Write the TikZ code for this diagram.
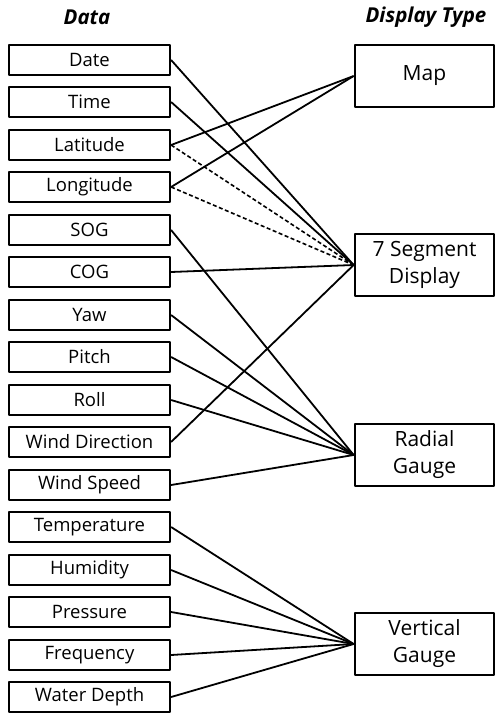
\documentclass[tikz,border=0pt]{standalone}
\usepackage{fontspec}
\setmainfont{Open Sans}
\usepackage{tikz}
\usetikzlibrary{arrows.meta}

\tikzset{
  databox/.style={draw, line width=2.2pt, minimum width=161pt, minimum height=30.5pt, inner sep=0pt, font=\fontsize{18.5}{22}\selectfont},
  typebox/.style={draw, line width=2.2pt, minimum width=139.5pt, minimum height=62.5pt, inner sep=0pt, align=center, font=\fontsize{21}{27}\selectfont},
  link/.style={line width=1.8pt},
  dlink/.style={line width=1.6pt, dash pattern=on 4pt off 2.5pt},
}

\begin{document}
\begin{tikzpicture}[x=1pt, y=-1pt, line join=round]
  \useasboundingbox (0,0) rectangle (496,713);
  % headings
  \node[font=\fontsize{20.5}{24}\selectfont\bfseries\itshape] (hdata) at (87,17) {Data};
  \node[font=\fontsize{20.5}{24}\selectfont\bfseries\itshape] (htype) at (426,17) {Display Type};
  % data items
  \node[databox] (date) at (89.5,60) {Date};
  \node[databox] (time) at (89.5,102) {Time};
  \node[databox] (lat) at (89.5,145) {Latitude};
  \node[databox] (lon) at (89.5,187) {Longitude};
  \node[databox] (sog) at (89.5,230) {SOG};
  \node[databox] (cog) at (89.5,272) {COG};
  \node[databox] (yaw) at (89.5,315) {Yaw};
  \node[databox] (pitch) at (89.5,357) {Pitch};
  \node[databox] (roll) at (89.5,400) {Roll};
  \node[databox] (wdir) at (89.5,442) {Wind Direction};
  \node[databox] (wspd) at (89.5,485) {Wind Speed};
  \node[databox] (temp) at (89.5,527) {Temperature};
  \node[databox] (hum) at (89.5,570) {Humidity};
  \node[databox] (pres) at (89.5,612) {Pressure};
  \node[databox] (freq) at (89.5,655) {Frequency};
  \node[databox] (depth) at (89.5,697) {Water Depth};
  % display types
  \node[typebox] (map) at (424.5,76) {Map};
  \node[typebox] (seg) at (424.5,265) {7 Segment\\Display};
  \node[typebox] (radial) at (424.5,455) {Radial\\Gauge};
  \node[typebox] (vert) at (424.5,644) {Vertical\\Gauge};
  % links
  \draw[link] (date.east) -- (seg.west);
  \draw[link] (time.east) -- (seg.west);
  \draw[link] (lat.east) -- (map.west);
  \draw[dlink] (lat.east) -- (seg.west);
  \draw[link] (lon.east) -- (map.west);
  \draw[dlink] (lon.east) -- (seg.west);
  \draw[link] (sog.east) -- (radial.west);
  \draw[link] (cog.east) -- (seg.west);
  \draw[link] (yaw.east) -- (radial.west);
  \draw[link] (pitch.east) -- (radial.west);
  \draw[link] (roll.east) -- (radial.west);
  \draw[link] (wdir.east) -- (seg.west);
  \draw[link] (wspd.east) -- (radial.west);
  \draw[link] (temp.east) -- (vert.west);
  \draw[link] (hum.east) -- (vert.west);
  \draw[link] (pres.east) -- (vert.west);
  \draw[link] (freq.east) -- (vert.west);
  \draw[link] (depth.east) -- (vert.west);
\end{tikzpicture}
\end{document}
